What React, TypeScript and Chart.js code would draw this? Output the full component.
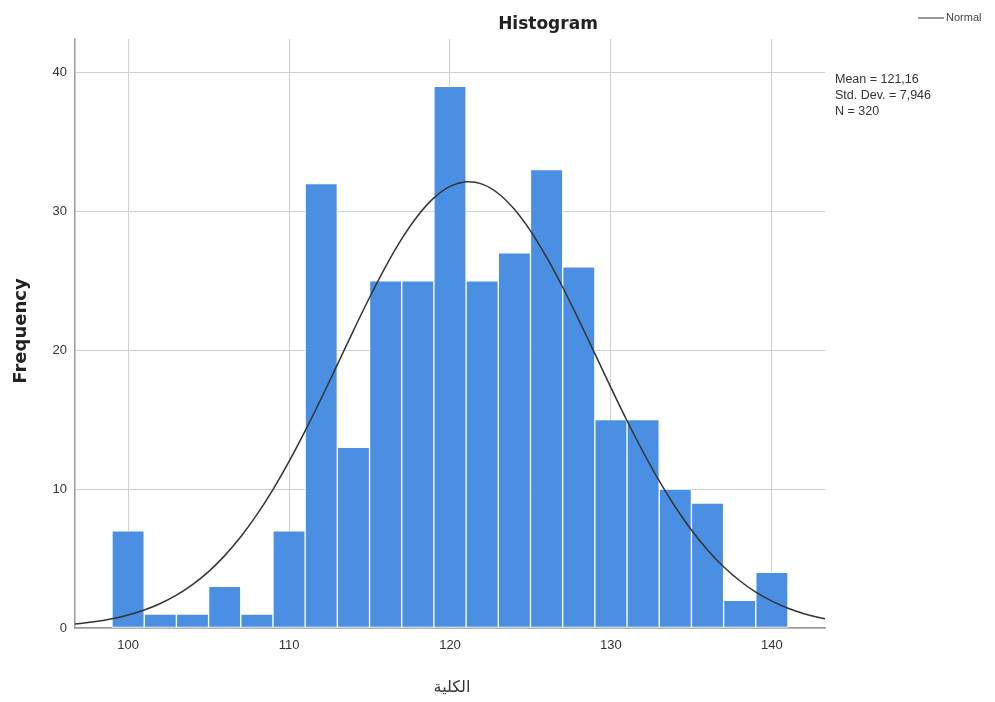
import React, { useEffect, useRef } from "react";
import { Chart, registerables } from "chart.js";

Chart.register(...registerables);

// Histogram bins (centers) and frequencies
const binCenters = [100, 102, 104, 106, 108, 110, 112, 114, 116, 118, 120, 122, 124, 126, 128, 130, 132, 134, 136, 138, 140];
const frequencies = [7, 1, 1, 3, 1, 7, 32, 13, 25, 25, 39, 25, 27, 33, 26, 15, 15, 10, 9, 2, 4];

// Normal curve
const curveX = [96, 97, 98, 99, 100, 101, 102, 103, 104, 105, 106, 107, 108, 109, 110, 111, 112, 113, 114, 115, 116, 117, 118, 119, 120, 121, 122, 123, 124, 125, 126, 127, 128, 129, 130, 131, 132, 133, 134, 135, 136, 137, 138, 139, 140, 141, 142, 143, 144];
const curveY = [0.21, 0.32, 0.46, 0.66, 0.93, 1.29, 1.76, 2.36, 3.12, 4.06, 5.21, 6.57, 8.16, 9.96, 11.99, 14.19, 16.53, 18.96, 21.41, 23.79, 26.02, 28.01, 29.68, 30.96, 31.79, 32.12, 31.95, 31.28, 30.14, 28.59, 26.69, 24.53, 22.18, 19.75, 17.3, 14.92, 12.67, 10.59, 8.71, 7.05, 5.62, 4.41, 3.4, 2.58, 1.93, 1.42, 1.03, 0.74, 0.52];

const xTicks = [100, 110, 120, 130, 140];
const yTicks = [0, 10, 20, 30, 40];

const titleText = "Histogram";
const xTitle = "الكلية";
const yTitle = "Frequency";
const legendLabel = "Normal";
const statsLines = ["Mean = 121,16", "Std. Dev. = 7,946", "N = 320"];

const SANS = "Arial, 'Liberation Sans', sans-serif";

const textPlugin = {
  id: "texts",
  afterDraw(chart: any) {
    const ctx = chart.ctx;
    ctx.save();
    ctx.fillStyle = "#222";
    ctx.textBaseline = "middle";
    // title
    ctx.font = "bold 17px 'DejaVu Sans', sans-serif";
    ctx.textAlign = "center";
    ctx.fillText(titleText, 548, 25);
    // y title
    ctx.save();
    ctx.translate(21, 331);
    ctx.rotate(-Math.PI / 2);
    ctx.font = "bold 18px 'DejaVu Sans', sans-serif";
    ctx.fillText(yTitle, 0, 0);
    ctx.restore();
    // x title
    ctx.font = "16px 'DejaVu Sans', sans-serif";
    ctx.fillStyle = "#333";
    ctx.fillText(xTitle, 452, 688);
    // legend
    ctx.strokeStyle = "#555";
    ctx.lineWidth = 1.2;
    ctx.beginPath();
    ctx.moveTo(918, 18);
    ctx.lineTo(944, 18);
    ctx.stroke();
    ctx.font = "11px " + SANS;
    ctx.fillStyle = "#444";
    ctx.textAlign = "left";
    ctx.fillText(legendLabel, 946, 18);
    // stats
    ctx.font = "12.5px " + SANS;
    ctx.fillStyle = "#333";
    statsLines.forEach((s, i) => ctx.fillText(s, 835, 80 + i * 16));
    ctx.restore();
  },
};

export default function App() {
  const ref = useRef<HTMLCanvasElement>(null);
  useEffect(() => {
    document.body.style.margin = "0";
    const chart = new Chart(ref.current as HTMLCanvasElement, {
      type: "bar",
      data: {
        datasets: [
          {
            type: "line",
            label: legendLabel,
            data: curveX.map((x, i) => ({ x, y: curveY[i] })),
            borderColor: "#333",
            borderWidth: 1.5,
            pointRadius: 0,
            tension: 0.4,
            fill: false,
            order: 0,
          } as any,
          {
            type: "bar",
            label: "Frequency",
            data: binCenters.map((x, i) => ({ x, y: frequencies[i] })),
            backgroundColor: "#4a8fe2",
            borderColor: "#ffffff",
            borderWidth: 1,
            borderSkipped: false,
            barPercentage: 1,
            categoryPercentage: 1,
            order: 1,
          } as any,
        ],
      },
      options: {
        animation: false,
        responsive: false,
        maintainAspectRatio: false,
        layout: { padding: { top: 39, right: 170, left: 0, bottom: 0 } },
        plugins: { legend: { display: false }, tooltip: { enabled: false }, title: { display: false } },
        scales: {
          x: {
            type: "linear",
            min: 96.7,
            max: 143.3,
            offset: false,
            afterBuildTicks: (s: any) => {
              s.ticks = xTicks.map((v) => ({ value: v }));
            },
            afterFit: (s: any) => {
              s.height = 74;
            },
            grid: { color: "#cfcfcf", lineWidth: 1, drawTicks: false, offset: false },
            border: { color: "#9a9a9a", width: 1.5 },
            ticks: { color: "#333", font: { size: 13, family: SANS }, padding: 10, maxRotation: 0 },
          },
          y: {
            min: 0,
            max: 42.4,
            afterBuildTicks: (s: any) => {
              s.ticks = yTicks.map((v) => ({ value: v }));
            },
            afterFit: (s: any) => {
              s.width = 75;
            },
            grid: { color: "#cfcfcf", lineWidth: 1, drawTicks: false },
            border: { color: "#9a9a9a", width: 1.5 },
            ticks: { color: "#333", font: { size: 13, family: SANS }, padding: 8 },
          },
        },
      },
      plugins: [textPlugin],
    } as any);
    return () => chart.destroy();
  }, []);
  return (
    <div style={{ width: 995, height: 702, background: "#fff" }}>
      <canvas ref={ref} width={995} height={702} style={{ display: "block" }} />
    </div>
  );
}
